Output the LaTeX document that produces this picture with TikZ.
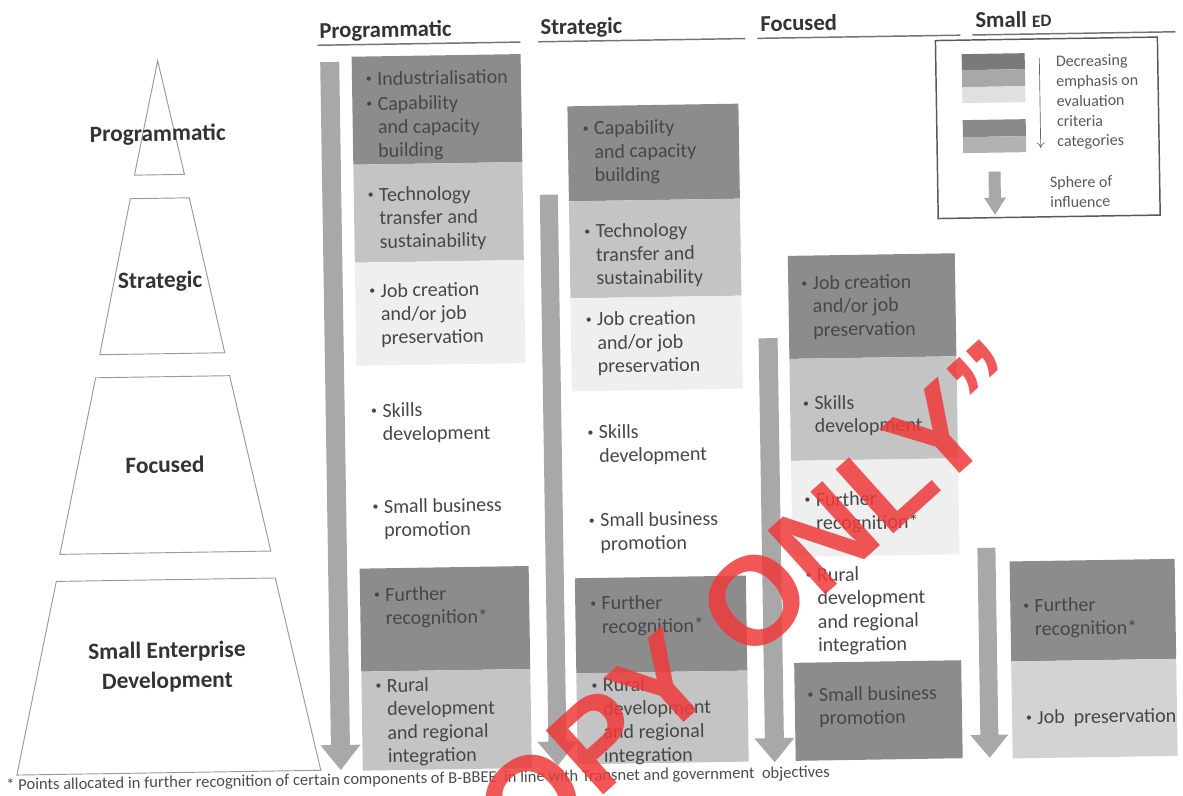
\documentclass[tikz,border=0pt]{standalone}
\usepackage{fontspec}
\usetikzlibrary{arrows.meta}
\setmainfont{Carlito}
\newfontfamily\wmfont{Liberation Sans}
\definecolor{dk}{HTML}{8C8C8C}
\definecolor{md}{HTML}{C4C4C4}
\definecolor{lt}{HTML}{EFEFEF}
\definecolor{jp}{HTML}{D3D3D3}
\definecolor{barc}{HTML}{A8A8A8}
\definecolor{txc}{HTML}{474747}
\definecolor{hdc}{HTML}{333333}
\definecolor{wmred}{HTML}{F03A3A}
\newcommand\smbul{\raisebox{0.28ex}{\fontsize{9}{9}\selectfont\textbullet}}
\newcommand\bitem[4]{\node[item,anchor=base west] (#1) at (#2,#3) {\begin{tabular}[t]{@{}p{8.5pt}@{}l@{}}\smbul&#4\end{tabular}};}
\newcommand\downbar[6]{\fill[barc] ({#1-#2/2},#3) -- ({#1+#2/2},#3) -- ({#1+#2/2},#4) -- ({#1+#6},#4) -- (#1,#5) -- ({#1-#6},#4) -- ({#1-#2/2},#4) -- cycle;}
\tikzset{
  item/.style={inner sep=0pt, text=txc, font=\fontsize{15}{17.6}\selectfont},
  hdr/.style={inner sep=0pt, anchor=base west, text=hdc, font=\bfseries\fontsize{17}{20}\selectfont},
  hline/.style={draw=black!55, line width=1.1pt},
  pyr/.style={draw=black!40, line width=0.7pt, fill=white},
  plab/.style={inner sep=0pt, text=hdc, align=center, font=\bfseries\fontsize{17.5}{22.5}\selectfont},
  legtxt/.style={inner sep=0pt, anchor=base west, text=black!65, font=\fontsize{12}{15}\selectfont},
  wm/.style={inner sep=0pt, text=wmred, opacity=0.85, font=\wmfont\bfseries\fontsize{94}{94}\selectfont}
}
\begin{document}
\begin{tikzpicture}[x=0.75pt,y=-0.75pt]
\useasboundingbox (0,0) rectangle (1183,796);
\fill[white] (0,0) rectangle (1183,796);
\begin{scope}[rotate around={0.9:(591.5,398)}, transform shape]
% pyramid
\draw[pyr] (163,54) -- (188,168) -- (138,168) -- cycle;
\draw[pyr] (133.5,191.5) -- (192.5,191.5) -- (225.5,347) -- (100.5,347) -- cycle;
\draw[pyr] (96,370) -- (230,370) -- (268.5,546) -- (57.5,546) -- cycle;
\draw[pyr] (53.5,573) -- (272.5,573) -- (315,766) -- (11,766) -- cycle;
\node[plab] (pl1) at (162,128) {Programmatic};
\node[plab] (pl2) at (162,275) {Strategic};
\node[plab] (pl3) at (164,458) {Focused};
\node[plab] (pl4) at (163,660) {Small Enterprise\\Development};
% headers
\node[hdr] (h1) at (325,34) {Programmatic};
\node[hdr] (h2) at (546,34) {Strategic};
\node[hdr] (h3) at (766,34) {Focused};
\node[hdr] (h4) at (981,34) {Small {\fontsize{13}{13}\selectfont ED}};
\draw[hline] (323,41) -- (526,41);
\draw[hline] (544,41) -- (751,41);
\draw[hline] (763,41) -- (966,41);
\draw[hline] (978,41) -- (1181,41);
% bars
\downbar{335}{19}{58}{741}{766}{20}
\downbar{552}{18}{194}{741}{765}{20}
\downbar{769}{19}{341}{741}{765}{20}
\downbar{984}{18}{554}{741}{764}{19}
% column 1 boxes
\fill[dk] (357,53) rectangle (526,161);
\fill[md] (357,161) rectangle (526,259);
\fill[lt] (357,259) rectangle (526,362);
\fill[dk] (357,565) rectangle (526,668);
\fill[md] (357,668) rectangle (526,767);
% column 2 boxes
\fill[dk] (572,106) rectangle (743,201);
\fill[md] (572,201) rectangle (743,298);
\fill[lt] (572,298) rectangle (743,391);
\fill[dk] (572,578) rectangle (743,673);
\fill[md] (572,673) rectangle (743,764);
% column 3 boxes
\fill[dk] (790,259) rectangle (957,362);
\fill[md] (790,362) rectangle (957,464);
\fill[lt] (790,464) rectangle (957,560);
\fill[dk] (790,666) rectangle (957,764);
% column 4 boxes
\fill[dk] (1007,568) rectangle (1172,668);
\fill[jp] (1007,668) rectangle (1172,765);
% column 1 text
\bitem{a1}{370.7}{82}{Industrialisation}
\bitem{a2}{370.7}{107}{Capability\\&and capacity\\&building}
\bitem{a3}{370.7}{198}{Technology\\&transfer and\\&sustainability}
\bitem{a4}{370.7}{294}{Job creation\\&and/or job\\&preservation}
\bitem{a5}{370.7}{414}{Skills\\&development}
\bitem{a6}{370.7}{510}{Small business\\&promotion}
\bitem{a7}{370.7}{598}{Further\\&recognition*}
\bitem{a8}{370.7}{689}{Rural\\&development\\&and regional\\&integration}
% column 2 text
\bitem{b1}{586.7}{135}{Capability\\&and capacity\\&building}
\bitem{b2}{586.7}{238}{Technology\\&transfer and\\&sustainability}
\bitem{b3}{586.7}{326}{Job creation\\&and/or job\\&preservation}
\bitem{b4}{586.7}{439}{Skills\\&development}
\bitem{b5}{586.7}{527}{Small business\\&promotion}
\bitem{b6}{586.7}{610}{Further\\&recognition*}
\bitem{b7}{586.7}{692}{Rural\\&development\\&and regional\\&integration}
% column 3 text
\bitem{c1}{802.7}{293}{Job creation\\&and/or job\\&preservation}
\bitem{c2}{802.7}{413}{Skills\\&development}
\bitem{c3}{802.7}{510}{Further\\&recognition*}
\bitem{c4}{802.7}{585}{Rural\\&development\\&and regional\\&integration}
\bitem{c5}{802.7}{705}{Small business\\&promotion}
% column 4 text
\bitem{d1}{1019.7}{619}{Further\\&recognition*}
\bitem{d2}{1020.7}{731}{Job\ \ preservation}
% legend
\draw[black!65, line width=1.1pt] (941,46) rectangle (1163,224);
\fill[black!52] (967,60) rectangle (1030,76);
\fill[black!34] (967,76) rectangle (1030,93);
\fill[black!12] (967,93) rectangle (1030,109);
\fill[black!46] (967,126) rectangle (1030,143);
\fill[black!30] (967,143) rectangle (1030,159);
\draw[black!60, line width=0.5pt, -{To[length=4pt,width=6pt]}] (1044.6,65) -- (1044.6,155);
\fill[barc] (992,178) -- (1004,178) -- (1004,204) -- (1009,204) -- (998,221) -- (987,204) -- (992,204) -- cycle;
\node[legtxt] (lg1) at (1061,74) {\begin{tabular}[t]{@{}l@{}}Decreasing\\emphasis on\\evaluation\\criteria\\categories\end{tabular}};
\node[legtxt] (lg2) at (1053,195) {\begin{tabular}[t]{@{}l@{}}Sphere of\\influence\end{tabular}};
% footnote
\node[inner sep=0pt, anchor=base west, text=black!70, font=\fontsize{12.4}{14}\selectfont] (fn) at (0,781) {* Points allocated in further recognition of certain components of B-BBEE\ \ in line with Transnet and government\ \ objectives};
\end{scope}
% watermark
\node[wm, rotate=42] (wmk) at (722,630) {COPY ONLY”};
\end{tikzpicture}
\end{document}
